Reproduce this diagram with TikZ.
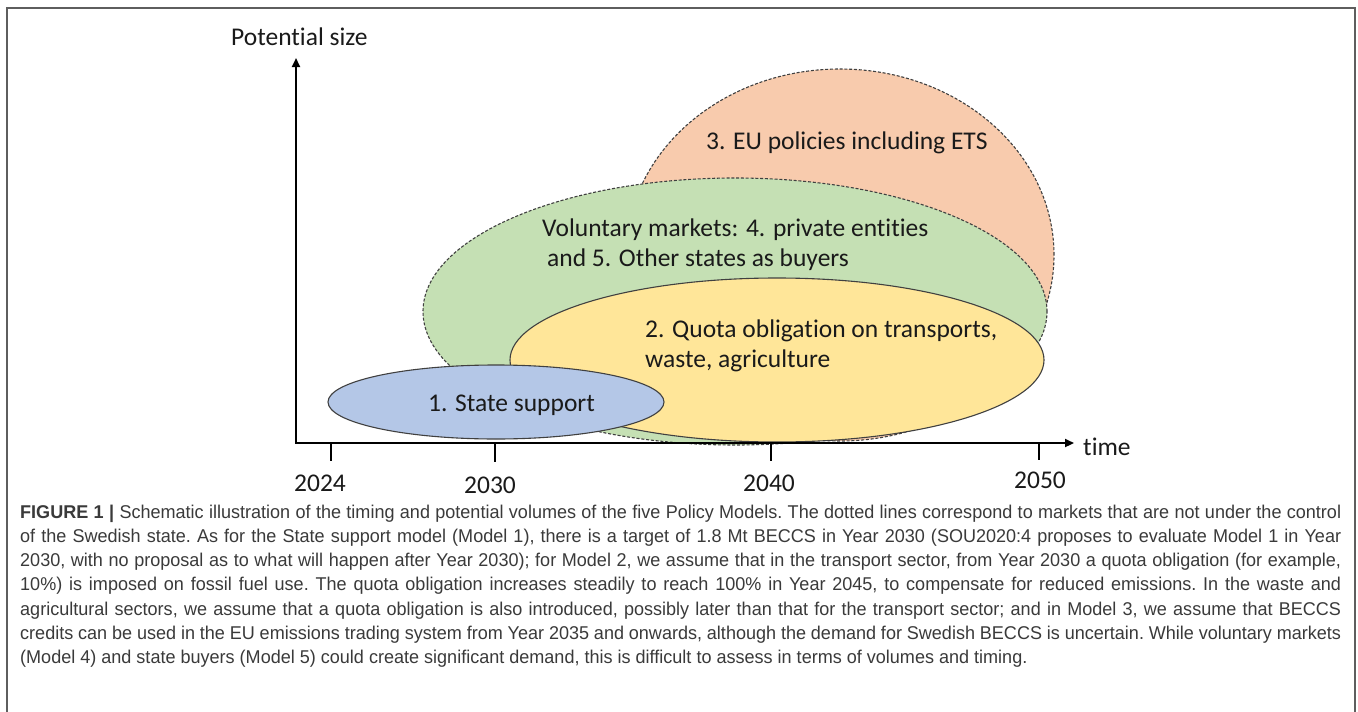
\documentclass[tikz,border=0pt]{standalone}
\usepackage{fontspec}
\setmainfont{Carlito}[Ligatures={NoCommon}]
\newfontfamily\capfont{Liberation Sans}[FakeStretch=0.975]
\usetikzlibrary{shapes.geometric,arrows.meta}
\definecolor{orangefill}{HTML}{F8CBAD}
\definecolor{greenfill}{HTML}{C5E0B4}
\definecolor{yellowfill}{HTML}{FFE699}
\definecolor{bluefill}{HTML}{B4C7E7}
\definecolor{edgegray}{HTML}{404040}
\definecolor{labelcol}{HTML}{1A1A1A}
\definecolor{capcol}{HTML}{3A3A3A}
\definecolor{framecol}{HTML}{5E5E5E}
\tikzset{
  region/.style={ellipse, draw=edgegray, line width=1.1pt, inner sep=0pt},
  dashedregion/.style={region, dash pattern=on 3pt off 1.8pt},
  lbl/.style={font=\fontsize{25.5}{30}\selectfont, text=labelcol, inner sep=0pt},
  axisline/.style={line width=2.2pt, draw=black, {Triangle[length=9pt,width=8pt]}-{Triangle[length=9pt,width=8pt]}},
  tickline/.style={line width=2pt, draw=black},
}
\begin{document}
\begin{tikzpicture}[x=1pt,y=-1pt]
\useasboundingbox (0,0) rectangle (1358,712);
\fill[white] (0,0) rectangle (1358,712);
% frame
\coordinate (f1) at (7,714);
\coordinate (f2) at (7,8);
\coordinate (f3) at (1355,8);
\coordinate (f4) at (1355,714);
\draw[framecol, line width=2pt] (f1) -- (f2) -- (f3) -- (f4);
% regions
\node[dashedregion, fill=orangefill, minimum width=428pt, minimum height=372pt] (eu) at (840,255) {};
\node[dashedregion, fill=greenfill, minimum width=624pt, minimum height=267pt] (vol) at (735,311.5) {};
\node[region, fill=yellowfill, minimum width=534pt, minimum height=164pt] (quota) at (777,360) {};
\node[region, fill=bluefill, minimum width=336pt, minimum height=74pt] (state) at (496,402) {};
% labels
\node[lbl, anchor=base west] (euL) at (706,149) {3. EU policies including ETS};
\node[lbl, anchor=base west] (volL1) at (542,236) {Voluntary markets: 4. private entities};
\node[lbl, anchor=base west] (volL2) at (547,266) {and 5. Other states as buyers};
\node[lbl, anchor=base west] (qL1) at (645,337) {2. Quota obligation on transports,};
\node[lbl, anchor=base west] (qL2) at (645,367) {waste, agriculture};
\node[lbl, anchor=base west] (sL) at (428,411) {1. State support};
% axes
\coordinate (O) at (296,443);
\coordinate (Ytop) at (296,58);
\coordinate (Xend) at (1074,443);
\draw[axisline] (Ytop) -- (O) -- (Xend);
\node[lbl, anchor=base west] (ylab) at (231,45) {Potential size};
\node[lbl, anchor=base west] (xlab) at (1083,455) {time};
% ticks
\coordinate (t24) at (331,443);
\coordinate (t30) at (495,443);
\coordinate (t40) at (771,443);
\coordinate (t50) at (1039,443);
\coordinate (t24e) at (331,461);
\coordinate (t30e) at (495,462);
\coordinate (t40e) at (771,461);
\coordinate (t50e) at (1039,460);
\draw[tickline] (t24) -- (t24e);
\draw[tickline] (t30) -- (t30e);
\draw[tickline] (t40) -- (t40e);
\draw[tickline] (t50) -- (t50e);
\node[lbl, anchor=base] (y24) at (320,491) {2024};
\node[lbl, anchor=base] (y30) at (490,493) {2030};
\node[lbl, anchor=base] (y40) at (769,491) {2040};
\node[lbl, anchor=base] (y50) at (1040,488) {2050};
% caption
\node[anchor=base west, inner sep=0pt, text=capcol] (cap) at (20,518) {\parbox[t]{1321pt}{\capfont\fontsize{18.5}{24.3}\selectfont\frenchspacing\tolerance=10000\hyphenpenalty=10000\rightskip=0pt
{\bfseries FIGURE 1 |} Schematic illustration of the timing and potential volumes of the five Policy Models. The dotted lines correspond to markets that are not under the control\linebreak
of the Swedish state. As for the State support model (Model 1), there is a target of 1.8 Mt BECCS in Year 2030 (SOU2020:4 proposes to evaluate Model 1 in Year\linebreak
2030, with no proposal as to what will happen after Year 2030); for Model 2, we assume that in the transport sector, from Year 2030 a quota obligation (for example,\linebreak
10\%) is imposed on fossil fuel use. The quota obligation increases steadily to reach 100\% in Year 2045, to compensate for reduced emissions. In the waste and\linebreak
agricultural sectors, we assume that a quota obligation is also introduced, possibly later than that for the transport sector; and in Model 3, we assume that BECCS\linebreak
credits can be used in the EU emissions trading system from Year 2035 and onwards, although the demand for Swedish BECCS is uncertain. While voluntary markets\linebreak
(Model 4) and state buyers (Model 5) could create significant demand, this is difficult to assess in terms of volumes and timing.}};
\end{tikzpicture}
\end{document}
